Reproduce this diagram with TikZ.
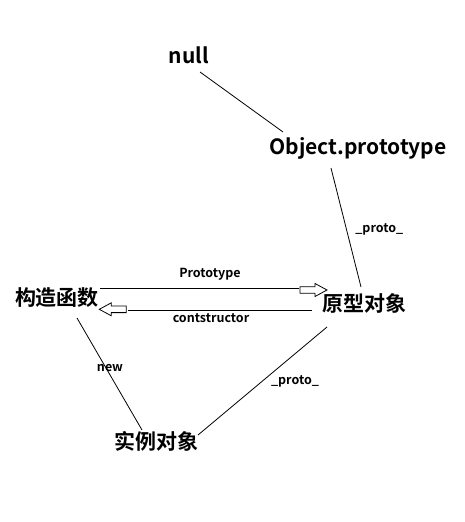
\documentclass[tikz,border=0pt]{standalone}
\usepackage{fontspec}
\setmainfont{Noto Sans CJK SC}[BoldFont={* Bold}]
\tikzset{
    big/.style={font=\bfseries\fontsize{21}{21}\selectfont, inner sep=0pt},
    small/.style={font=\bfseries\fontsize{12.5}{12.5}\selectfont, inner sep=0pt},
    link/.style={line width=0.8pt},
    hollowhead/.pic={\draw[line width=0.8pt, fill=white] (0,0) -- (-12,-6.5) -- (-12,-3.3) -- (-27,-3.3) -- (-27,3.3) -- (-12,3.3) -- (-12,6.5) -- cycle;}
}
\begin{document}
\begin{tikzpicture}[x=1pt, y=-1pt]
        \useasboundingbox (0,0) rectangle (465,522);
        \node [big, anchor=base] (null) at (189,63) {null};
        \node [big, anchor=base] (obj) at (358,154) {Object.prototype};
        \node [big] (gz) at (57,298) {构造函数};
        \node [big] (yx) at (364,303) {原型对象};
        \node [big] (sl) at (156,441) {实例对象};
        \draw [link] ([shift={(11,9)}]null.base) -- ([shift={(-75,-22)}]obj.base);
        \draw [link] ([shift={(-27,14)}]obj.base) -- ([shift={(-3,-16)}]yx.center) node [small, pos=0.5, anchor=base west, xshift=9pt, yshift=-5pt] {\_proto\_};
        % prototype / constructor
        \draw [link] ([shift={(43,-10)}]gz.center) -- ([shift={(-65,-15)}]yx.center);
        \pic at ([shift={(-37,-13)}]yx.center) {hollowhead};
        \node [small, anchor=base] (ptlab) at (210,277) {Prototype};
        \draw [link] ([shift={(-52,7.7)}]yx.center) -- ([shift={(71,12.7)}]gz.center);
        \pic [rotate=180] at ([shift={(42.3,11.3)}]gz.center) {hollowhead};
        \node [small, anchor=base] (cslab) at (211,322) {contstructor};
        % new / proto
        \draw [link] ([shift={(20,20)}]gz.center) -- ([shift={(-14,-11)}]sl.center);
        \node [small, anchor=base] (newlab) at (110,371) {new};
        \draw [link] ([shift={(-37,24)}]yx.center) -- ([shift={(42,-6)}]sl.center);
        \node [small, anchor=base] (prlab) at (295,384) {\_proto\_};
\end{tikzpicture}
\end{document}
